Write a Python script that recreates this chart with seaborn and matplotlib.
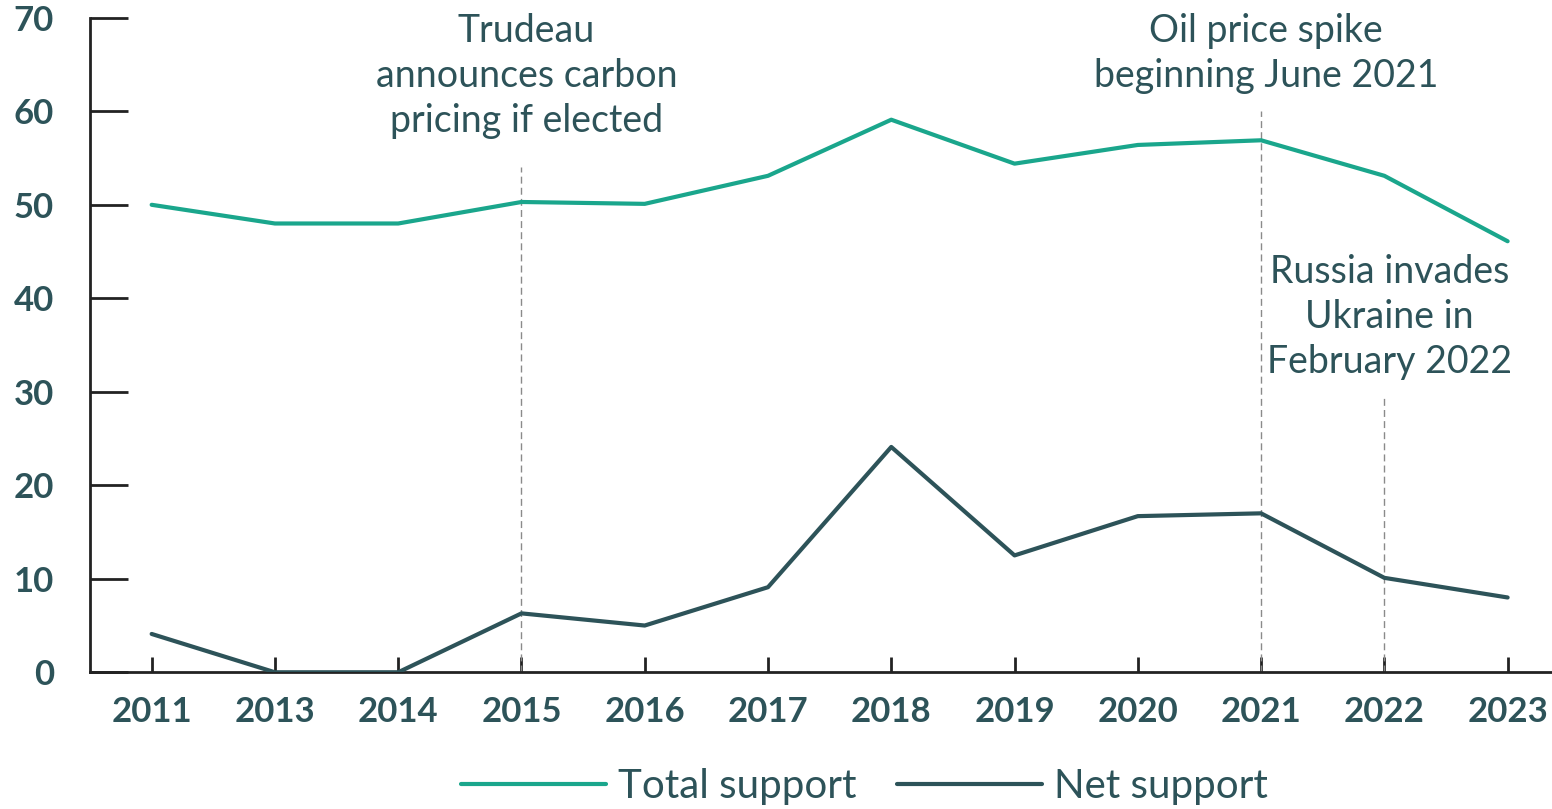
import numpy as np
import pandas as pd
import matplotlib.pyplot as plt
import seaborn as sns

years = ["2011", "2013", "2014", "2015", "2016", "2017", "2018", "2019", "2020", "2021", "2022", "2023"]
total_support = [50, 48, 48, 50.3, 50.1, 53.1, 59.1, 54.4, 56.4, 56.9, 53.1, 46.1]
net_support = [4.1, 0, 0, 6.3, 5.0, 9.1, 24.1, 12.5, 16.7, 17.0, 10.1, 8.0]
y_ticks = [0, 10, 20, 30, 40, 50, 60, 70]

event_years = ["2015", "2021", "2022"]
event_tops = [54, 60, 29.3]
event_labels = ["Trudeau\nannounces carbon\npricing if elected",
                "Oil price spike\nbeginning June 2021",
                "Russia invades\nUkraine in\nFebruary 2022"]
event_label_y = [70.5, 70.5, 44.7]

teal = "#1aa68c"
slate = "#2d5359"

sns.set_style("ticks")
plt.rcParams['font.family'] = ['Lato', 'DejaVu Sans']

df = pd.DataFrame({
    "pos": list(range(len(years))) * 2,
    "value": total_support + net_support,
    "series": ["Total support"] * len(years) + ["Net support"] * len(years),
})

fig = plt.figure(figsize=(15.52, 8.09), dpi=100)
ax = fig.add_axes([0.058, 0.169, 0.942, 0.809])

sns.lineplot(data=df, x="pos", y="value", hue="series",
             palette={"Total support": teal, "Net support": slate},
             linewidth=3, ax=ax, zorder=3)

for yr, top, lab, ly in zip(event_years, event_tops, event_labels, event_label_y):
    xp = years.index(yr)
    ax.plot([xp, xp], [0, top], color="#8a8a8a", linestyle=(0, (5, 3)), linewidth=1, zorder=1)
    ax.text(xp + 0.04, ly, lab, ha="center", va="top", fontsize=27, color=slate,
            linespacing=1.3)

ax.set_xlim(-0.5, 11.36)
ax.set_ylim(0, 70)
ax.set_xticks(range(len(years)))
ax.set_xticklabels(years)
ax.set_yticks(y_ticks)
ax.set_xlabel("")
ax.set_ylabel("")
ax.tick_params(axis="y", left=True, direction="in", length=27, width=2, color="#222222",
               labelsize=25, labelcolor=slate, pad=26)
ax.tick_params(axis="x", bottom=True, direction="in", length=11, width=2, color="#222222",
               labelsize=25, labelcolor=slate, pad=17)
for lbl in ax.get_xticklabels() + ax.get_yticklabels():
    lbl.set_fontweight("bold")

sns.despine(ax=ax)
for s in ["left", "bottom"]:
    ax.spines[s].set_color("#222222")
    ax.spines[s].set_linewidth(2)

handles, labels = ax.get_legend_handles_labels()
ax.get_legend().remove()
fig.legend(handles, labels, loc="lower center", bbox_to_anchor=(0.557, -0.04), ncol=2,
           frameon=False, fontsize=29, handlelength=3.6, handletextpad=0.3,
           columnspacing=1.0, labelcolor=slate)

fig.savefig("out.png", dpi=100)
